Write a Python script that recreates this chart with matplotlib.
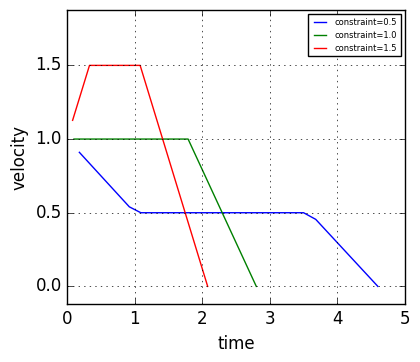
import matplotlib
matplotlib.use("Agg")
import matplotlib.pyplot as plt

# velocity profiles for three constraint values
t_05 = [0.18, 0.92, 1.09, 3.50, 3.68, 4.60]
v_05 = [0.91, 0.54, 0.50, 0.50, 0.455, 0.0]

t_10 = [0.10, 1.79, 2.80]
v_10 = [1.0, 1.0, 0.0]

t_15 = [0.08, 0.33, 1.08, 2.08]
v_15 = [1.127, 1.5, 1.5, 0.0]

plt.style.use("classic")
fig = plt.figure(figsize=(4.2, 3.62), dpi=100)
ax = fig.add_axes([0.16, 0.16, 0.804, 0.812])

ax.plot(t_05, v_05, color="b", label="constraint=0.5")
ax.plot(t_10, v_10, color="g", label="constraint=1.0")
ax.plot(t_15, v_15, color="r", label="constraint=1.5")

ax.set_xlim(0, 5)
ax.set_ylim(-0.12, 1.875)
ax.set_yticks([0.0, 0.5, 1.0, 1.5])
ax.set_xlabel("time")
ax.set_ylabel("velocity")
ax.grid(True)
ax.legend(loc="upper right", fontsize=6)

fig.savefig("out.png", dpi=100)
